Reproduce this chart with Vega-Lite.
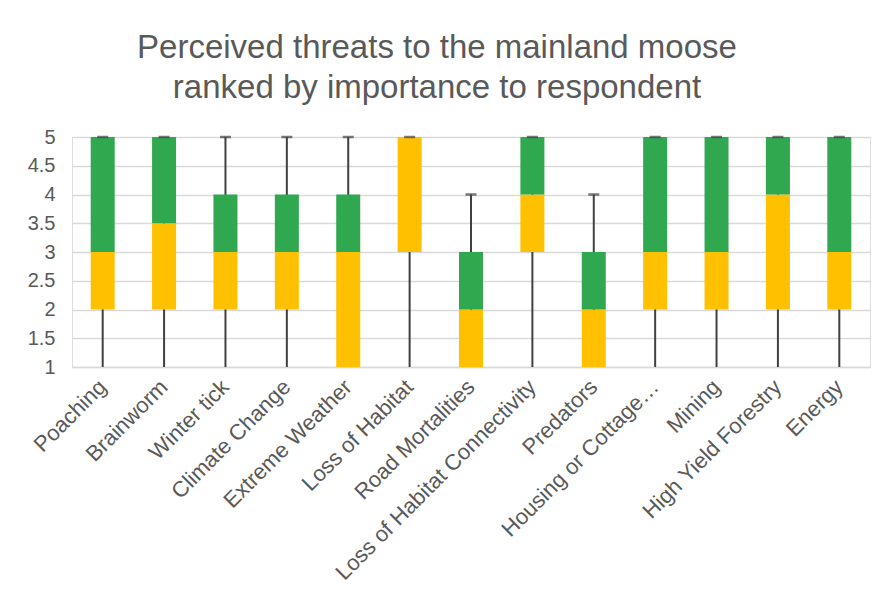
{
  "$schema": "https://vega.github.io/schema/vega-lite/v6.json",
  "autosize": {"type": "none"},
  "width": 798,
  "height": 230,
  "padding": {"left": 72, "top": 137, "right": 16, "bottom": 241},
  "background": "white",
  "title": {
    "text": ["Perceived threats to the mainland moose", "ranked by importance to respondent"],
    "fontSize": 33,
    "font": "Liberation Sans",
    "fontWeight": "normal",
    "color": "#595959",
    "anchor": "middle",
    "dx": -34,
    "offset": 22,
    "lineHeight": 40
  },
  "config": {
    "axisY": {
      "title": null,
      "values": [1, 1.5, 2, 2.5, 3, 3.5, 4, 4.5, 5],
      "format": "~g",
      "labelOverlap": false,
      "labelFont": "Liberation Sans",
      "labelFontSize": 20,
      "labelColor": "#595959",
      "labelPadding": 17,
      "ticks": false,
      "domain": false,
      "gridColor": "#d9d9d9",
      "gridWidth": 1.5
    }
  },
  "data": {
    "values": [
      {"threat": "Poaching", "min": 1, "q1": 2, "median": 3, "q3": 5, "max": 5},
      {"threat": "Brainworm", "min": 1, "q1": 2, "median": 3.5, "q3": 5, "max": 5},
      {"threat": "Winter tick", "min": 1, "q1": 2, "median": 3, "q3": 4, "max": 5},
      {"threat": "Climate Change", "min": 1, "q1": 2, "median": 3, "q3": 4, "max": 5},
      {"threat": "Extreme Weather", "min": 1, "q1": 1, "median": 3, "q3": 4, "max": 5},
      {"threat": "Loss of Habitat", "min": 1, "q1": 3, "median": 5, "q3": 5, "max": 5},
      {"threat": "Road Mortalities", "min": 1, "q1": 1, "median": 2, "q3": 3, "max": 4},
      {"threat": "Loss of Habitat Connectivity", "min": 1, "q1": 3, "median": 4, "q3": 5, "max": 5},
      {"threat": "Predators", "min": 1, "q1": 1, "median": 2, "q3": 3, "max": 4},
      {"threat": "Housing or Cottage…", "min": 1, "q1": 2, "median": 3, "q3": 5, "max": 5},
      {"threat": "Mining", "min": 1, "q1": 2, "median": 3, "q3": 5, "max": 5},
      {"threat": "High Yield Forestry", "min": 1, "q1": 2, "median": 4, "q3": 5, "max": 5},
      {"threat": "Energy", "min": 1, "q1": 2, "median": 3, "q3": 5, "max": 5}
    ]
  },
  "encoding": {
    "x": {
      "field": "threat",
      "type": "nominal",
      "sort": null,
      "scale": {"paddingInner": 0, "paddingOuter": 0},
      "axis": {
        "title": null,
        "labelAngle": -45,
        "labelAlign": "right",
        "labelBaseline": "middle",
        "labelFont": "Liberation Sans",
        "labelFontSize": 22,
        "labelColor": "#595959",
        "labelPadding": 16,
        "labelLimit": 400,
        "labelOverlap": false,
        "ticks": false,
        "domainColor": "#d9d9d9",
        "domainWidth": 1.5,
        "grid": false
      }
    }
  },
  "layer": [
    {
      "mark": {"type": "rule", "color": "#404040", "strokeWidth": 2},
      "encoding": {
        "y": {
          "field": "min",
          "type": "quantitative",
          "title": null,
          "scale": {"domain": [1, 5], "nice": false, "zero": false}
        },
        "y2": {"field": "max"}
      }
    },
    {
      "mark": {"type": "bar", "size": 24, "color": "#FFC000"},
      "encoding": {
        "y": {"field": "q1", "type": "quantitative", "title": null},
        "y2": {"field": "median"}
      }
    },
    {
      "mark": {"type": "bar", "size": 24, "color": "#2FA84F"},
      "encoding": {
        "y": {"field": "median", "type": "quantitative", "title": null},
        "y2": {"field": "q3"}
      }
    },
    {
      "mark": {"type": "tick", "color": "#404040", "thickness": 2.5, "size": 11, "orient": "horizontal"},
      "encoding": {
        "y": {"field": "max", "type": "quantitative", "title": null}
      }
    }
  ]
}
